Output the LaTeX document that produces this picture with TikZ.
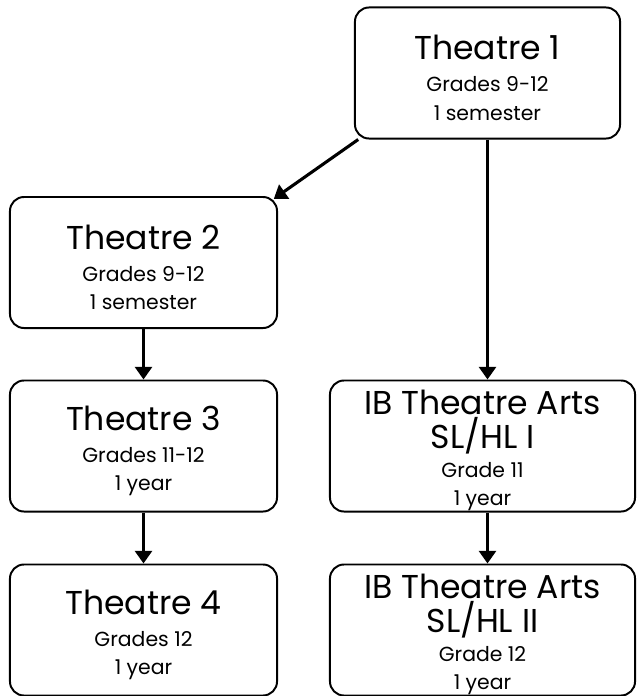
\documentclass[tikz,border=0pt]{standalone}
\usepackage{fontspec}
\setmainfont{Poppins}
\usetikzlibrary{arrows.meta}
\newcommand\crsname{\fontsize{23.5}{26}\selectfont\rule{0pt}{24pt}}
\newcommand\crsinfo{\fontsize{14.5}{20}\selectfont}

\begin{document}
\begin{tikzpicture}[x=0.025cm,y=-0.025cm,
    course/.style={draw,line width=1.4pt,rounded corners=10pt,align=center,
      minimum width=6.675cm,minimum height=3.275cm,inner sep=0pt,font=\crsinfo},
    ibcourse/.style={course,minimum width=7.625cm},
    link/.style={line width=2.2pt,-{Triangle[length=9pt,width=12pt]}}]
    \useasboundingbox (0,0) rectangle (638,696);
    \node[course,minimum width=6.625cm] (t1) at (487.5,73) {{\crsname Theatre 1}\\[3pt] Grades 9-12\\ 1 semester};
    \node[course] (t2) at (143.5,262.5) {{\crsname Theatre 2}\\[3pt] Grades 9-12\\ 1 semester};
    \node[course] (t3) at (143.5,446) {{\crsname Theatre 3}\\[3pt] Grades 11-12\\ 1 year};
    \node[course] (t4) at (143.5,630) {{\crsname Theatre 4}\\[3pt] Grades 12\\ 1 year};
    \node[ibcourse] (ib1) at (482.5,446) {{\crsname IB Theatre Arts}\\[1pt] {\fontsize{23.5}{26}\selectfont SL/HL I}\\[0.5pt] Grade 11\\ 1 year};
    \node[ibcourse] (ib2) at (482.5,630) {{\crsname IB Theatre Arts}\\[1pt] {\fontsize{23.5}{26}\selectfont SL/HL II}\\[0.5pt] Grade 12\\ 1 year};
    % arrows
    \draw[link] ([xshift=3pt]t1.south west) -- ([xshift=-3pt,yshift=-2pt]t2.north east);
    \draw[link] (t1.south) -- (t1.south |- ib1.north);
    \draw[link] (t2.south) -- (t3.north);
    \draw[link] (t3.south) -- (t4.north);
    \draw[link] (t1.south |- ib1.south) -- (t1.south |- ib2.north);
\end{tikzpicture}
\end{document}
